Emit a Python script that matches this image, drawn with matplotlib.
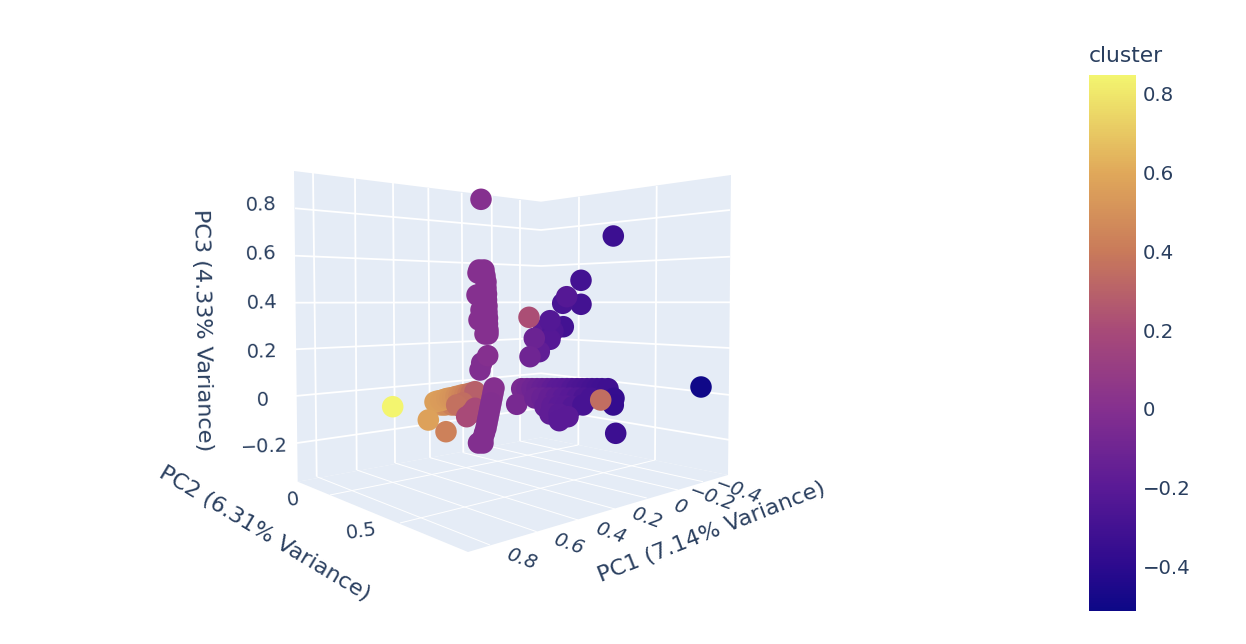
import matplotlib
matplotlib.use("Agg")
import matplotlib.pyplot as plt
from matplotlib.colors import LinearSegmentedColormap, Normalize
from matplotlib.cm import ScalarMappable

W, H = 1246, 644
INK = "#2a3f5f"
PANE = "#e5ecf6"

# projected point positions (as seen on screen) and cluster value, group by group
tail_x = [441, 445, 452, 463, 435, 438, 441, 444, 447, 450, 453, 456, 459, 462, 465, 468, 471, 475,
          463, 456.7, 475, 471.7, 466.7, 428.3, 446, 392.7]
tail_y = [405, 405, 405, 408, 402, 401, 400.5, 399.5, 398.5, 398, 397.5, 396.5, 396, 395, 394.5, 394, 393, 391.7,
          403, 405, 408.3, 412.7, 416.7, 420, 431.7, 406.7]
tail_c = [0.52, 0.48, 0.42, 0.30, 0.56, 0.56, 0.55, 0.54, 0.53, 0.52, 0.51, 0.49, 0.47, 0.45, 0.43, 0.40, 0.36, 0.29,
          0.35, 0.36, 0.20, 0.20, 0.20, 0.57, 0.43, 0.85]

upper_x = [481, 479, 478, 484, 485, 486, 486, 477, 486.5, 482, 481, 486.5, 487, 487, 479, 487.5, 487.5,
           488, 488, 485, 480, 481.7, 487.7]
upper_y = [199.3, 270, 273, 270, 276, 282, 288, 295, 294, 300, 310, 300, 306, 312, 320, 318, 324,
           330, 334, 334, 370, 363, 355.7]
upper_c = [0.0, 0.0, 0.0, 0.0, 0.0, 0.0, 0.0, 0.0, 0.0, 0.0, 0.0, 0.0, 0.0, 0.0, 0.0, 0.0, 0.0,
           0.0, 0.0, 0.0, -0.02, -0.02, 0.0]

lower_x = [494, 493, 492, 491, 490, 489, 488, 487, 486, 484.5, 483, 481, 478.5, 483]
lower_y = [388, 393, 398, 403, 408, 413, 418, 423, 428, 433, 438, 442, 443, 443]
lower_c = [0.0, 0.0, 0.0, -0.01, -0.01, -0.01, -0.01, -0.01, -0.01, -0.01, -0.01, -0.01, -0.01, -0.01]

arm_x = [613.3, 581, 581, 562.7, 566.7, 563.3, 543.5, 553, 550, 550, 539.3, 534.3, 530, 529]
arm_y = [236, 280.3, 304.3, 303.3, 296.7, 326.7, 330, 331, 339.3, 320.7, 351.7, 338.3, 356.7, 317.3]
arm_c = [-0.33, -0.30, -0.30, -0.27, -0.22, -0.30, -0.20, -0.25, -0.22, -0.23, -0.17, -0.12, -0.10, 0.22]

band_x = [521.7, 527, 532, 537, 542, 547, 552, 557, 562, 567, 572, 577, 582, 587, 592, 597, 602, 608,
          614, 613.3, 516.7]
band_y = [388.7, 388.7, 388.7, 388.7, 388.7, 388.7, 388.7, 388.7, 388.7, 388.7, 388.7, 388.7,
          388.7, 388.7, 388.7, 388.7, 388.7, 388.7, 398.3, 405, 404.3]
band_c = [-0.06, -0.08, -0.10, -0.12, -0.14, -0.15, -0.17, -0.19, -0.20, -0.21, -0.23, -0.25,
          -0.26, -0.27, -0.29, -0.30, -0.31, -0.32, -0.36, -0.37, -0.06]

blob_x = [535, 542, 549, 556, 563, 570, 577, 584, 591,
          545, 552, 559, 566, 573, 583, 550, 559, 568, 559.3]
blob_y = [398, 398, 398, 398, 398, 398, 398, 398, 398,
          406.7, 406, 406, 406, 406.7, 405, 414, 414, 416.7, 420.7]
blob_c = [-0.11, -0.13, -0.15, -0.17, -0.19, -0.21, -0.23, -0.26, -0.28,
          -0.15, -0.17, -0.19, -0.20, -0.23, -0.28, -0.17, -0.19, -0.20, -0.20]

single_x = [615.7, 701, 600.7]
single_y = [433.3, 387, 400]
single_c = [-0.33, -0.50, 0.35]

point_x = tail_x + upper_x + lower_x + arm_x + band_x + blob_x + single_x
point_y = tail_y + upper_y + lower_y + arm_y + band_y + blob_y + single_y
cluster = tail_c + upper_c + lower_c + arm_c + band_c + blob_c + single_c

# scene frame: the two walls and the floor
left_wall_x = [294, 541, 541, 297.7]
left_wall_y = [171, 201.7, 437.5, 481.7]
right_wall_x = [541, 731, 728, 541]
right_wall_y = [201.7, 175, 475, 437.5]
floor_x = [297.7, 541, 728, 468]
floor_y = [481.7, 437.5, 475, 552]

# PC3 gridlines: height at the left edge, back corner and right edge
z_left = [208.3, 255.7, 302.7, 349.3, 396, 443.3]
z_back = [230, 266, 302.3, 338, 373.3, 408]
z_right = [210, 256.7, 302.3, 348, 395, 440]
z_ticks = ["0.8", "0.6", "0.4", "0.2", "0", "\u22120.2"]
z_tick_x = [261, 261, 261.5, 262, 263, 264]
z_tick_y = [205, 254, 303, 351.5, 400, 447]

# PC1 gridlines: top and bottom of the left wall, then the floor's front edge
pc1_top_x = [313, 355, 393, 428.3, 461.7, 491.7, 520]
pc1_top_y = [173, 178, 183, 188, 192.7, 196, 199.5]
pc1_bot_x = [316.7, 356.7, 395, 430, 463.3, 492.5, 520]
pc1_bot_y = [476.7, 470, 463, 457.7, 452.7, 447, 441]
pc1_front_x = [490, 536.7, 578, 615, 646.7, 678, 703]
pc1_front_y = [545, 531.7, 520, 509, 498, 490, 481.7]
pc1_ticks = ["0.8", "0.6", "0.4", "0.2", "0", "\u22120.2", "\u22120.4"]
pc1_tick_x = [521.7, 568, 610, 646.7, 680, 711.7, 738]
pc1_tick_y = [559, 544, 533, 518, 507, 498, 491]

# PC2 gridlines: top and bottom of the right wall, then the floor's left edge
pc2_top_x = [579, 656.7]
pc2_top_y = [196.7, 186]
pc2_bot_x = [578.3, 655]
pc2_bot_y = [445, 460]
pc2_front_x = [330, 400]
pc2_front_y = [495, 523]
pc2_ticks = ["0", "0.5"]
pc2_tick_x = [293, 361]
pc2_tick_y = [500, 531]

# colour bar
cbar_ticks = [0.8, 0.6, 0.4, 0.2, 0, -0.2, -0.4]
cbar_labels = ["0.8", "0.6", "0.4", "0.2", "0", "\u22120.2", "\u22120.4"]
cbar_min, cbar_max = -0.514, 0.848
cbar_values = [-0.514, -0.4, -0.2, 0.0, 0.2, 0.4, 0.6, 0.848]
cbar_colors = ["#0d0887", "#2d0a8e", "#5a1a96", "#85308f", "#a84a78",
               "#c97a5a", "#e0a85a", "#f3f56f"]

norm = Normalize(cbar_min, cbar_max)
cmap = LinearSegmentedColormap.from_list(
    "muted_plasma", [(float(norm(v)), c) for v, c in zip(cbar_values, cbar_colors)])

fig = plt.figure(figsize=(W / 100, H / 100), dpi=100, facecolor="white")
ax = fig.add_axes([0, 0, 1, 1])
ax.set_xlim(0, W)
ax.set_ylim(H, 0)
ax.axis("off")

for xs, ys in ((left_wall_x, left_wall_y), (right_wall_x, right_wall_y), (floor_x, floor_y)):
    ax.fill(xs, ys, color=PANE, lw=0, zorder=1)

GRID = dict(color="white", solid_capstyle="butt", zorder=2)
for zl, zb, zr in zip(z_left, z_back, z_right):
    ax.plot([295, 541, 730], [zl, zb, zr], lw=1.3, **GRID)
for tx, ty, bx, by, fx, fy in zip(pc1_top_x, pc1_top_y, pc1_bot_x, pc1_bot_y, pc1_front_x, pc1_front_y):
    ax.plot([tx, bx], [ty, by], lw=1.3, **GRID)
    ax.plot([bx, fx], [by, fy], lw=0.7, **GRID)
for tx, ty, bx, by, fx, fy in zip(pc2_top_x, pc2_top_y, pc2_bot_x, pc2_bot_y, pc2_front_x, pc2_front_y):
    ax.plot([tx, bx], [ty, by], lw=1.3, **GRID)
    ax.plot([bx, fx], [by, fy], lw=0.7, **GRID)

ax.scatter(point_x, point_y, c=cluster, cmap=cmap, norm=norm, s=240, linewidths=0, zorder=3)

TICK = dict(color=INK, fontsize=14, ha="center", va="center", family="DejaVu Sans")
for x, y, s in zip(z_tick_x, z_tick_y, z_ticks):
    ax.text(x, y, s, rotation=2, **TICK)
for x, y, s in zip(pc1_tick_x, pc1_tick_y, pc1_ticks):
    ax.text(x, y, s, rotation=-20, style="oblique", **TICK)
for x, y, s in zip(pc2_tick_x, pc2_tick_y, pc2_ticks):
    ax.text(x, y, s, rotation=8, **TICK)

TITLE = dict(color=INK, fontsize=16.1, ha="center", va="center",
             rotation_mode="anchor", family="DejaVu Sans")
ax.text(202, 330, "PC3 (4.33% Variance)", rotation=-89, **TITLE)
ax.text(265, 534, "PC2 (6.31% Variance)", rotation=-31, **TITLE)
ax.text(712, 532, "PC1 (7.14% Variance)", rotation=21.5, **TITLE)

cax = fig.add_axes([1089 / W, 1 - 611 / H, 47 / W, 536 / H])
cb = fig.colorbar(ScalarMappable(norm=norm, cmap=cmap), cax=cax)
cb.set_ticks(cbar_ticks, labels=cbar_labels)
cb.outline.set_visible(False)
cb.ax.tick_params(length=0, pad=5, labelsize=14.2, labelcolor=INK)
ax.text(1089, 56, "cluster", color=INK, fontsize=15.7, ha="left", va="center", family="DejaVu Sans")

fig.savefig("out.png", dpi=100)
